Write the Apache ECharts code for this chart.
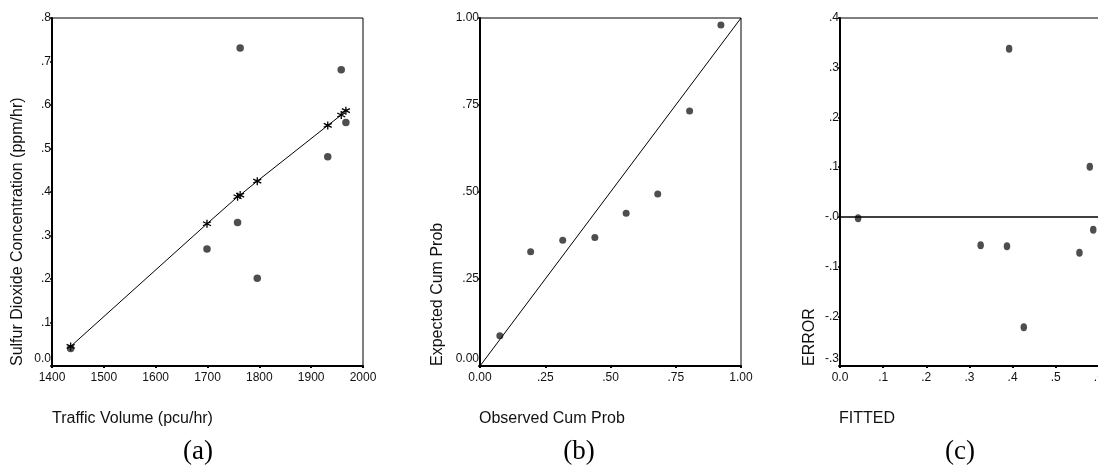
<!DOCTYPE html>
<html>
<head>
<meta charset="utf-8">
<script src="https://cdn.jsdelivr.net/npm/echarts@6/dist/echarts.min.js"></script>
<style>
html,body{margin:0;padding:0;background:#fff;}
#chart{width:1098px;height:471px;}
</style>
</head>
<body>
<div id="chart"></div>
<script>
// ---- Data ----
// Panel (a): observed SO2 vs traffic volume, plus fitted values
const trafficVolume = [1436, 1699, 1758, 1763, 1796, 1932, 1958, 1967];
const so2Observed   = [0.040, 0.269, 0.330, 0.731, 0.202, 0.481, 0.681, 0.560];
const so2Fitted     = [0.045, 0.327, 0.389, 0.393, 0.425, 0.553, 0.577, 0.587];
// Panel (b): P-P plot
const observedCumProb = [0.076, 0.194, 0.317, 0.440, 0.560, 0.681, 0.803, 0.923];
const expectedCumProb = [0.087, 0.328, 0.361, 0.369, 0.439, 0.494, 0.733, 0.980];
const ppReference = [[0, 0], [1, 1]];
// Panel (c): residuals vs fitted
const fittedValues = [0.042, 0.326, 0.387, 0.392, 0.426, 0.555, 0.579, 0.587];
const errorValues  = [-0.003, -0.057, -0.059, 0.338, -0.222, -0.072, 0.101, -0.026];

// Tick labels
const xTicksA = ['1400', '1500', '1600', '1700', '1800', '1900', '2000'];
const yTicksA = ['0.0', '.1', '.2', '.3', '.4', '.5', '.6', '.7', '.8'];
const xTicksB = ['0.00', '.25', '.50', '.75', '1.00'];
const yTicksB = ['0.00', '.25', '.50', '.75', '1.00'];
const xTicksC = ['0.0', '.1', '.2', '.3', '.4', '.5', '.6', '.7'];
const yTicksC = ['-.3', '-.2', '-.1', '-.0', '.1', '.2', '.3', '.4'];

const SANS = 'Liberation Sans, Arial, Helvetica, sans-serif';
const SERIF = 'Liberation Serif, Times New Roman, serif';
const INK = '#111';

function pick(list, min, step, lowBoost) {
  return function (v) {
    const i = Math.round((v - min) / step);
    const s = list[i] !== undefined ? list[i] : '';
    if (lowBoost && i === 0) return '{lo|' + s + '}';
    return s;
  };
}

const labelBase = { fontSize: 12, fontFamily: SANS, color: INK, showMinLabel: true, showMaxLabel: true, hideOverlap: false };
const richLo = { lo: { fontSize: 12, fontFamily: SANS, color: INK, padding: [0, 0, 14, 0] } };

function xAxisDef(grid, min, max, step, ticks) {
  return {
    type: 'value', gridIndex: grid, min: min, max: max, interval: step,
    axisLine: { show: true, onZero: false, lineStyle: { color: '#000', width: 2 } },
    axisTick: { show: true, length: 2, lineStyle: { color: '#000', width: 2 } },
    axisLabel: Object.assign({}, labelBase, { margin: 6, formatter: pick(ticks, min, step, false) }),
    splitLine: { show: false }
  };
}
function yAxisDef(grid, min, max, step, ticks) {
  return {
    type: 'value', gridIndex: grid, min: min, max: max, interval: step,
    axisLine: { show: true, onZero: false, lineStyle: { color: '#000', width: 2 } },
    axisTick: { show: true, length: 2, lineStyle: { color: '#000', width: 1.5 } },
    axisLabel: Object.assign({}, labelBase, { margin: 1, formatter: pick(ticks, min, step, true), rich: richLo }),
    splitLine: { show: false }
  };
}

const gridBase = { show: true, borderColor: '#000', borderWidth: 1, backgroundColor: 'transparent', containLabel: false, outerBoundsMode: 'none' };

const asterisk = 'path://M5,0L5,10M0.7,2.5L9.3,7.5M0.7,7.5L9.3,2.5';

const zip = (a, b) => a.map((v, i) => [v, b[i]]);
const fittedLine = zip(trafficVolume, so2Fitted).sort((p, q) => p[0] - q[0]);

function axisText(x, y, text, rotated) {
  return {
    type: 'text', x: x, y: y, rotation: rotated ? Math.PI / 2 : 0,
    style: { text: text, fill: INK, font: '16px ' + SANS, textAlign: 'left', textVerticalAlign: 'middle' }
  };
}
function panelText(x, y, text) {
  return {
    type: 'text', x: x, y: y,
    style: { text: text, fill: '#000', font: '27px ' + SERIF, textAlign: 'center', textVerticalAlign: 'middle' }
  };
}

const option = {
  animation: false,
  backgroundColor: '#fff',
  grid: [
    Object.assign({ left: 52, top: 18, width: 311, height: 348 }, gridBase),
    Object.assign({ left: 480, top: 18, width: 261, height: 348 }, gridBase),
    Object.assign({ left: 840, top: 18, width: 302, height: 348 }, gridBase)
  ],
  xAxis: [
    xAxisDef(0, 1400, 2000, 100, xTicksA),
    xAxisDef(1, 0, 1, 0.25, xTicksB),
    xAxisDef(2, 0, 0.7, 0.1, xTicksC)
  ],
  yAxis: [
    yAxisDef(0, 0, 0.8, 0.1, yTicksA),
    yAxisDef(1, 0, 1, 0.25, yTicksB),
    yAxisDef(2, -0.3, 0.4, 0.1, yTicksC)
  ],
  series: [
    {
      type: 'scatter', xAxisIndex: 0, yAxisIndex: 0,
      data: zip(trafficVolume, so2Observed),
      symbol: 'circle', symbolSize: 7.5,
      itemStyle: { color: '#222' }
    },
    {
      type: 'line', xAxisIndex: 0, yAxisIndex: 0,
      data: fittedLine,
      symbol: asterisk, symbolSize: 8, showSymbol: true,
      lineStyle: { color: '#000', width: 1 },
      itemStyle: { color: 'transparent', borderColor: '#000', borderWidth: 1.3 }
    },
    {
      type: 'line', xAxisIndex: 1, yAxisIndex: 1,
      data: ppReference, symbol: 'none',
      lineStyle: { color: '#000', width: 1 }
    },
    {
      type: 'scatter', xAxisIndex: 1, yAxisIndex: 1,
      data: zip(observedCumProb, expectedCumProb),
      symbol: 'circle', symbolSize: 7,
      itemStyle: { color: '#222' }
    },
    {
      type: 'scatter', xAxisIndex: 2, yAxisIndex: 2,
      data: zip(fittedValues, errorValues),
      symbol: 'circle', symbolSize: [6.5, 8],
      itemStyle: { color: '#222' },
      markLine: {
        silent: true, symbol: 'none', label: { show: false },
        lineStyle: { color: '#000', width: 1.5, type: 'solid' },
        data: [{ yAxis: 0 }]
      }
    }
  ],
  graphic: [
    axisText(18, 366, 'Sulfur Dioxide Concentration (ppm/hr)', true),
    axisText(52, 419, 'Traffic Volume (pcu/hr)', false),
    axisText(438, 366, 'Expected Cum Prob', true),
    axisText(479, 419, 'Observed Cum Prob', false),
    axisText(810, 366, 'ERROR', true),
    axisText(839, 419, 'FITTED', false),
    panelText(198, 452, '(a)'),
    panelText(579, 452, '(b)'),
    panelText(960, 452, '(c)')
  ]
};

const chart = echarts.init(document.getElementById('chart'), null, { renderer: 'canvas' });
chart.setOption(option);
</script>
</body>
</html>
